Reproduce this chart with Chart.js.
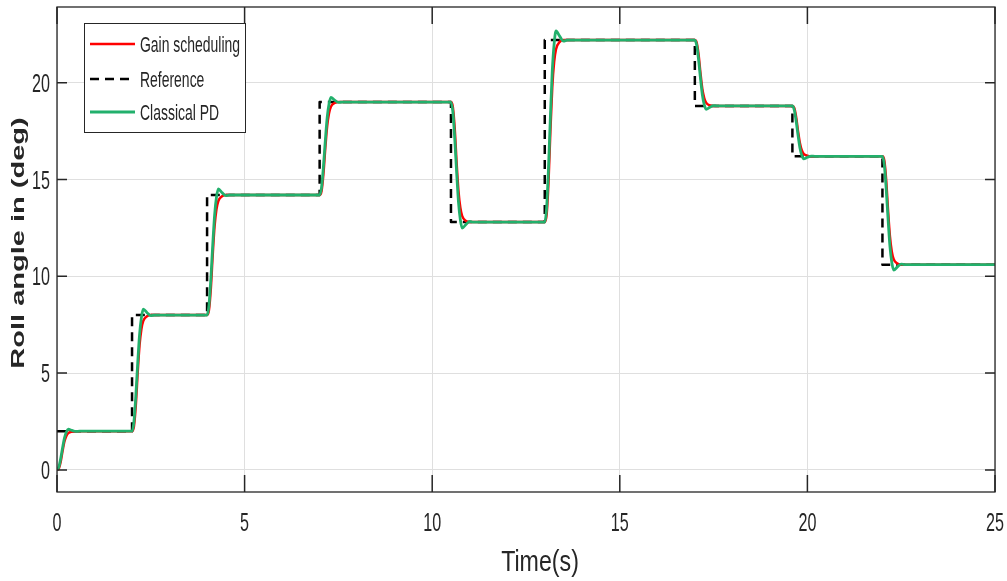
<!DOCTYPE html>
<html>
<head>
<meta charset="utf-8">
<script src="https://cdn.jsdelivr.net/npm/chart.js@4.4.1/dist/chart.umd.min.js"></script>
<style>
  html, body { margin: 0; padding: 0; background: #ffffff; overflow: hidden; }
  canvas { display: block; }
</style>
</head>
<body>
<canvas id="roll" width="1007" height="581"></canvas>
<script>
// Axis ticks
const xTicks = [0, 5, 10, 15, 20, 25];
const yTicks = [0, 5, 10, 15, 20];

// Reference roll command (step changes)
const refTime = [0, 2, 4, 7, 10.5, 13, 17, 19.6, 22, 25];
const refRoll = [2, 8, 14.2, 19, 12.8, 22.2, 18.8, 16.2, 10.6, 10.6];

// Gain scheduling controller response
const gsTime = [
  0, 0.05, 0.1, 0.15, 0.2, 0.25, 0.3, 0.4, 0.5,
  2, 2.05, 2.1, 2.15, 2.2, 2.25, 2.3, 2.4, 2.5,
  4, 4.05, 4.1, 4.15, 4.2, 4.25, 4.3, 4.4, 4.5,
  7, 7.05, 7.1, 7.15, 7.2, 7.25, 7.3, 7.4, 7.5,
  10.5, 10.55, 10.6, 10.65, 10.7, 10.75, 10.8, 10.9, 11.0,
  13, 13.05, 13.1, 13.15, 13.2, 13.25, 13.3, 13.4, 13.5,
  17, 17.05, 17.1, 17.15, 17.2, 17.25, 17.3, 17.4, 17.5,
  19.6, 19.65, 19.7, 19.75, 19.8, 19.85, 19.9, 20.0, 20.1,
  22, 22.05, 22.1, 22.15, 22.2, 22.25, 22.3, 22.4, 22.5,
  25
];
const gsRoll = [
  0, 0.08, 0.44, 1.0, 1.48, 1.76, 1.9, 1.98, 2.0,
  2, 2.24, 3.32, 5.0, 6.44, 7.28, 7.7, 7.94, 8.0,
  8, 8.25, 9.36, 11.1, 12.59, 13.46, 13.89, 14.14, 14.2,
  14.2, 14.39, 15.26, 16.6, 17.75, 18.42, 18.76, 18.95, 19.0,
  19, 18.75, 17.64, 15.9, 14.41, 13.54, 13.11, 12.86, 12.8,
  12.8, 13.18, 14.87, 17.5, 19.76, 21.07, 21.73, 22.11, 22.2,
  22.2, 22.06, 21.45, 20.5, 19.68, 19.21, 18.97, 18.83, 18.8,
  18.8, 18.7, 18.23, 17.5, 16.88, 16.51, 16.33, 16.23, 16.2,
  16.2, 15.98, 14.97, 13.4, 12.06, 11.27, 10.88, 10.66, 10.6,
  10.6
];

// Classical PD controller response
const pdTime = [
  0, 0.05, 0.1, 0.15, 0.2, 0.25, 0.3, 0.4, 0.5, 0.6,
  2, 2.05, 2.1, 2.15, 2.2, 2.25, 2.3, 2.4, 2.5, 2.6,
  4, 4.05, 4.1, 4.15, 4.2, 4.25, 4.3, 4.4, 4.5, 4.6,
  7, 7.05, 7.1, 7.15, 7.2, 7.25, 7.3, 7.4, 7.5, 7.6,
  10.5, 10.55, 10.6, 10.65, 10.7, 10.75, 10.8, 10.9, 11.0, 11.1,
  13, 13.05, 13.1, 13.15, 13.2, 13.25, 13.3, 13.4, 13.5, 13.6,
  17, 17.05, 17.1, 17.15, 17.2, 17.25, 17.3, 17.4, 17.5, 17.6,
  19.6, 19.65, 19.7, 19.75, 19.8, 19.85, 19.9, 20.0, 20.1, 20.2,
  22, 22.05, 22.1, 22.15, 22.2, 22.25, 22.3, 22.4, 22.5, 22.6,
  25
];
const pdRoll = [
  0, 0.16, 0.6, 1.16, 1.66, 1.96, 2.1, 2.04, 1.99, 2.0,
  2, 2.48, 3.8, 5.48, 6.98, 7.88, 8.3, 8.12, 7.97, 8.0,
  8, 8.5, 9.86, 11.6, 13.15, 14.08, 14.51, 14.32, 14.17, 14.2,
  14.2, 14.58, 15.64, 16.98, 18.18, 18.9, 19.24, 19.1, 18.98, 19.0,
  19, 18.5, 17.14, 15.4, 13.85, 12.92, 12.49, 12.68, 12.83, 12.8,
  12.8, 13.55, 15.62, 18.25, 20.6, 22.01, 22.67, 22.39, 22.15, 22.2,
  22.2, 21.93, 21.18, 20.23, 19.38, 18.87, 18.63, 18.73, 18.82, 18.8,
  18.8, 18.59, 18.02, 17.29, 16.64, 16.25, 16.07, 16.15, 16.21, 16.2,
  16.2, 15.75, 14.52, 12.95, 11.55, 10.71, 10.32, 10.49, 10.63, 10.6,
  10.6
];

const xTitle = 'Time(s)';
const yTitle = 'Roll angle in (deg)';

const toPoints = (t, v) => t.map((x, i) => ({ x, y: v[i] }));

const FONT = '"Liberation Sans", Arial, Helvetica, sans-serif';
const INK = '#262626';
const NARROW = 0.62;

// Draws text squeezed horizontally (in the text's own direction)
function squeezed(ctx, str, x, y, size, align, baseline, sx, weight) {
  ctx.save();
  ctx.font = (weight || 'normal') + ' ' + size + 'px ' + FONT;
  ctx.textAlign = align;
  ctx.textBaseline = baseline;
  ctx.fillStyle = INK;
  ctx.translate(x, y);
  ctx.scale(sx, 1);
  ctx.fillText(str, 0, 0);
  ctx.restore();
}

// Axes box, inward tick marks, tick labels, titles and the legend box
const framePlugin = {
  id: 'frame',
  afterDatasetsDraw(chart) {
    const { ctx, chartArea: a, scales: { x, y } } = chart;
    ctx.save();
    ctx.strokeStyle = INK;
    ctx.lineWidth = 1.3;
    ctx.strokeRect(a.left, a.top, a.right - a.left, a.bottom - a.top);
    ctx.lineWidth = 1.5;
    ctx.beginPath();
    xTicks.forEach(v => {
      const px = x.getPixelForValue(v);
      ctx.moveTo(px, a.bottom); ctx.lineTo(px, a.bottom - 17);
      ctx.moveTo(px, a.top); ctx.lineTo(px, a.top + 17);
    });
    yTicks.forEach(v => {
      const py = y.getPixelForValue(v);
      ctx.moveTo(a.left, py); ctx.lineTo(a.left + 10, py);
      ctx.moveTo(a.right, py); ctx.lineTo(a.right - 10, py);
    });
    ctx.stroke();
    ctx.restore();

    // tick labels
    xTicks.forEach(v => {
      squeezed(ctx, String(v), x.getPixelForValue(v), a.bottom + 39, 26, 'center', 'alphabetic', NARROW);
    });
    yTicks.forEach(v => {
      squeezed(ctx, String(v), a.left - 7, y.getPixelForValue(v) + 9, 26, 'right', 'alphabetic', NARROW);
    });

    // axis titles
    squeezed(ctx, xTitle, (a.left + a.right) / 2 + 14, a.bottom + 79, 29, 'center', 'alphabetic', 0.8);
    ctx.save();
    ctx.translate(19, 243);
    ctx.rotate(-Math.PI / 2);
    ctx.scale(1, 0.66);
    ctx.font = 'bold 29px ' + FONT;
    ctx.fillStyle = INK;
    ctx.textAlign = 'center';
    ctx.textBaseline = 'middle';
    ctx.fillText(yTitle, 0, 0);
    ctx.restore();

    // legend
    const box = { l: 84, t: 23, r: 245, b: 132 };
    ctx.save();
    ctx.fillStyle = '#ffffff';
    ctx.fillRect(box.l, box.t, box.r - box.l, box.b - box.t);
    ctx.strokeStyle = INK;
    ctx.lineWidth = 1;
    ctx.strokeRect(box.l + 0.5, box.t + 0.5, box.r - box.l, box.b - box.t);
    ctx.restore();
    const rows = [44, 79, 112];
    chart.data.datasets.forEach((ds, i) => {
      const cy = rows[i];
      ctx.save();
      ctx.strokeStyle = ds.borderColor;
      ctx.lineWidth = ds.borderWidth;
      ctx.setLineDash(ds.borderDash || []);
      ctx.beginPath();
      ctx.moveTo(90, cy);
      ctx.lineTo(135, cy);
      ctx.stroke();
      ctx.restore();
      squeezed(ctx, ds.label, 140, cy + 8, 22.5, 'left', 'alphabetic', NARROW);
    });
  }
};

new Chart(document.getElementById('roll'), {
  type: 'line',
  data: {
    datasets: [
      {
        label: 'Gain scheduling',
        data: toPoints(gsTime, gsRoll),
        borderColor: '#ff0000',
        borderWidth: 2.5,
        cubicInterpolationMode: 'monotone',
        order: 1
      },
      {
        label: 'Reference',
        data: toPoints(refTime, refRoll),
        borderColor: '#000000',
        borderWidth: 2.5,
        borderDash: [9, 6],
        stepped: 'before',
        order: 2
      },
      {
        label: 'Classical PD',
        data: toPoints(pdTime, pdRoll),
        borderColor: '#22b06c',
        borderWidth: 2.8,
        cubicInterpolationMode: 'monotone',
        order: 0
      }
    ]
  },
  options: {
    responsive: false,
    animation: false,
    devicePixelRatio: 1,
    layout: { padding: { left: 57, right: 12, top: 7, bottom: 89 } },
    elements: {
      point: { radius: 0, hoverRadius: 0 },
      line: { borderJoinStyle: 'round', borderCapStyle: 'butt' }
    },
    plugins: {
      legend: { display: false },
      tooltip: { enabled: false }
    },
    scales: {
      x: {
        type: 'linear',
        min: 0,
        max: 25,
        afterBuildTicks: s => { s.ticks = xTicks.map(v => ({ value: v })); },
        ticks: { display: false },
        grid: { color: '#dfdfdf', lineWidth: 1, drawTicks: false },
        border: { display: false }
      },
      y: {
        type: 'linear',
        min: -1.14,
        max: 23.91,
        afterBuildTicks: s => { s.ticks = yTicks.map(v => ({ value: v })); },
        ticks: { display: false },
        grid: { color: '#dfdfdf', lineWidth: 1, drawTicks: false },
        border: { display: false }
      }
    }
  },
  plugins: [framePlugin]
});
</script>
</body>
</html>
